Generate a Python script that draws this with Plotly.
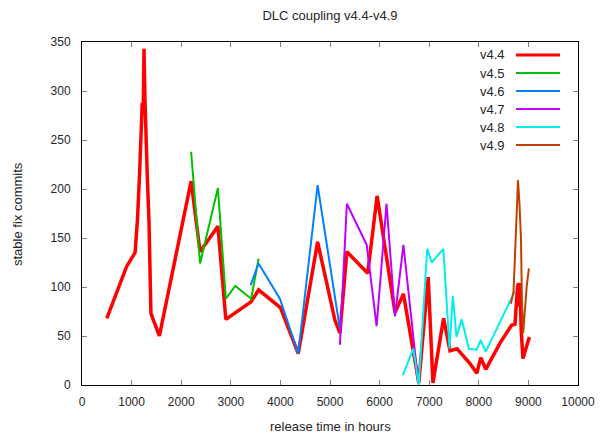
import plotly.graph_objects as go

# ---- data ----
series_names = ["v4.4", "v4.5", "v4.6", "v4.7", "v4.8", "v4.9"]
series_colors = ["#ff0000", "#00c000", "#0080ff", "#c000ff", "#00eeee", "#c04000"]
series_widths = [3.5, 2, 2, 2, 2, 2]

v44_x = [500, 900, 1070, 1120, 1160, 1190, 1215, 1235, 1250, 1270, 1290, 1320, 1350, 1370, 1390,
         1560, 2200, 2380, 2740, 2900, 3410, 3560, 4000, 4360, 4750, 5100, 5200, 5340, 5760, 5950,
         6310, 6480, 6790, 6980, 7075, 7290, 7420, 7560, 7820, 7960, 8040, 8140, 8430, 8660, 8730,
         8780, 8800, 8815, 8830, 8855, 8890, 9020]
v44_y = [68, 121, 135, 170, 215, 260, 288, 282, 343, 290, 250, 208, 168, 130, 73,
         50, 208, 136, 162, 67, 85, 97, 79, 32, 146, 66, 53, 136, 114, 193,
         74, 93, 2, 110, 2, 68, 35, 37, 22, 12, 28, 16, 43, 61, 62,
         100, 104, 80, 104, 56, 27, 49]

v45_x = [2200, 2380, 2740, 2900, 3090, 3410, 3560]
v45_y = [238, 124, 201, 88, 101, 88, 129]

v46_x = [3400, 3560, 3990, 4360, 4750, 5200]
v46_y = [102, 124, 88, 32, 204, 57]

v47_x = [5200, 5340, 5740, 5940, 6140, 6310, 6480, 6780]
v47_y = [41, 185, 143, 60, 185, 70, 143, 2]

v48_x = [6470, 6680, 6790, 6960, 7050, 7285, 7410, 7475, 7500, 7550, 7655, 7800, 7958, 8038, 8140, 8730]
v48_y = [10, 37, 0, 139, 125, 139, 37, 91, 78, 49, 67, 37, 36, 46, 34, 96]

v49_x = [8645, 8700, 8745, 8790, 8820, 8850, 8870, 8895, 8965, 9010]
v49_y = [83, 95, 151, 209, 185, 150, 85, 53, 100, 119]

xs = [v44_x, v45_x, v46_x, v47_x, v48_x, v49_x]
ys = [v44_y, v45_y, v46_y, v47_y, v48_y, v49_y]

# ---- layout geometry (pixels) ----
W, H = 600, 435
L, R, T, B = 82, 578, 42, 385
FONT = "Liberation Sans, Arial, sans-serif"
TXT = "#262626"

fig = go.Figure()
for name, color, lw, x, y in zip(series_names, series_colors, series_widths, xs, ys):
    fig.add_trace(go.Scatter(x=x, y=y, mode="lines", name=name,
                             line=dict(color=color, width=lw), showlegend=False))

def px_x(p):
    return (p - L) / (R - L)

def px_y(p):
    return (B - p) / (B - T)

# gnuplot-style key: label on the left, sample on the right
annotations = []
shapes = []
for i, (name, color, lw) in enumerate(zip(series_names, series_colors, series_widths)):
    yy = 55 + 18 * i
    annotations.append(dict(x=px_x(507), y=px_y(yy), xref="paper", yref="paper",
                            text=name, showarrow=False, xanchor="right", yanchor="middle",
                            font=dict(family=FONT, size=13, color=TXT)))
    shapes.append(dict(type="line", xref="paper", yref="paper",
                       x0=px_x(516), x1=px_x(560), y0=px_y(yy), y1=px_y(yy),
                       line=dict(color=color, width=3 if lw > 2 else 2)))

# axis titles placed as annotations (pixel positions from the reference)
annotations.append(dict(x=px_x(330), y=px_y(427), xref="paper", yref="paper",
                        text="release time in hours", showarrow=False,
                        xanchor="center", yanchor="middle",
                        font=dict(family=FONT, size=13, color=TXT)))
annotations.append(dict(x=px_x(17), y=px_y(214), xref="paper", yref="paper",
                        text="stable fix commits", showarrow=False, textangle=-90,
                        xanchor="center", yanchor="middle",
                        font=dict(family=FONT, size=13, color=TXT)))

fig.update_layout(
    width=W, height=H,
    margin=dict(l=L, r=W - R, t=T, b=H - B, pad=0),
    paper_bgcolor="white", plot_bgcolor="white",
    font=dict(family=FONT, size=12, color=TXT),
    title=dict(text="DLC coupling v4.4-v4.9", x=(L + R) / 2 / W, xref="container",
               y=1 - 15 / H, yref="container", xanchor="center", yanchor="middle",
               font=dict(family=FONT, size=13, color=TXT)),
    annotations=annotations,
    shapes=shapes,
)
fig.update_xaxes(range=[0, 10000], dtick=1000, tick0=0, tickformat="d",
                 showgrid=False, zeroline=False, automargin=False,
                 showline=True, linecolor="black", linewidth=1, mirror="ticks",
                 ticks="inside", ticklen=5, tickcolor="#808080", tickwidth=1,
                 ticklabelstandoff=6,
                 tickfont=dict(family=FONT, size=12, color=TXT))
fig.update_yaxes(range=[0, 350], dtick=50, tick0=0, tickformat="d",
                 showgrid=False, zeroline=False, automargin=False,
                 showline=True, linecolor="black", linewidth=1, mirror="ticks",
                 ticks="inside", ticklen=5, tickcolor="#808080", tickwidth=1,
                 ticklabelstandoff=8,
                 tickfont=dict(family=FONT, size=12, color=TXT))

fig.write_html("out.html",
               config={"displayModeBar": False, "staticPlot": True},
               post_script="document.body.style.margin='0';document.body.style.overflow='hidden';")
